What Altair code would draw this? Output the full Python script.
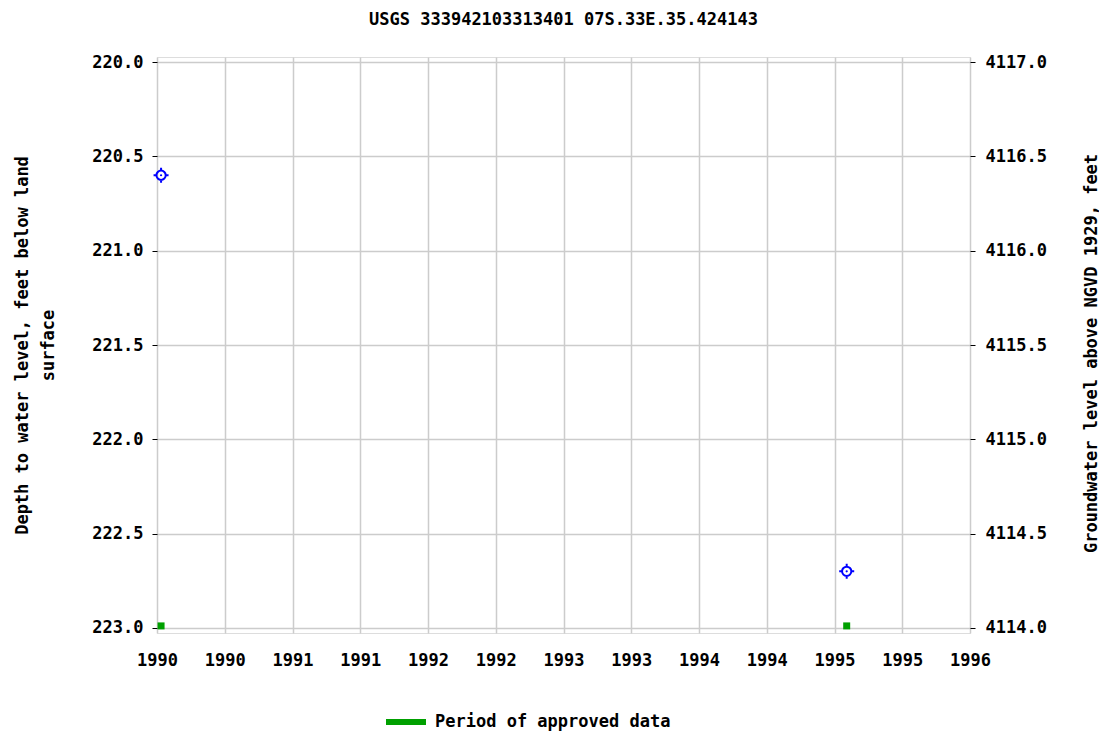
import altair as alt
import pandas as pd

# Data
dates = [1990.03, 1995.09]          # decimal years of measurements
depths = [220.6, 222.7]             # depth to water level, feet below land surface
elevations = [4116.4, 4114.3]       # groundwater level above NGVD 1929, feet
approved_dates = [1990.03, 1995.09] # period of approved data markers
approved_depth = [223.0, 223.0]

x_ticks = [1990.0 + 0.5 * i for i in range(13)]
y_ticks = [220.0, 220.5, 221.0, 221.5, 222.0, 222.5, 223.0]
y2_ticks = [4114.0, 4114.5, 4115.0, 4115.5, 4116.0, 4116.5, 4117.0]

FONT = "DejaVu Sans Mono"
FS = 17

meas = pd.DataFrame({"date": dates, "depth": depths, "elev": elevations})
appr = pd.DataFrame({"date": approved_dates, "depth": approved_depth,
                     "legend": ["Period of approved data"] * len(approved_dates)})

xscale = alt.Scale(domain=[1990.0, 1996.0], nice=False, zero=False)
xaxis = alt.Axis(values=x_ticks, labelExpr="'' + floor(datum.value)", title=None,
                 grid=True, gridColor="#cccccc", gridWidth=1.5, tickSize=0,
                 labelPadding=19, labelFontSize=FS, labelFont=FONT, labelFontWeight="bold",
                 labelColor="black", domain=False, labelFlush=False)

yscale = alt.Scale(domain=[219.973, 223.027], reverse=True, nice=False, zero=False)
yaxis = alt.Axis(values=y_ticks, format=".1f",
                 title=["Depth to water level, feet below land", "surface"],
                 titleFont=FONT, titleFontSize=FS, titleFontWeight="bold", titleColor="black",
                 titleLineHeight=26, titlePadding=34,
                 grid=True, gridColor="#cccccc", gridWidth=1.5,
                 tickSize=5, tickColor="black", labelPadding=9,
                 labelFontSize=FS, labelFont=FONT, labelFontWeight="bold", labelColor="black",
                 domain=False)

y2scale = alt.Scale(domain=[4113.973, 4117.027], nice=False, zero=False)
y2axis = alt.Axis(values=y2_ticks, format=".1f", orient="right",
                  title="Groundwater level above NGVD 1929, feet",
                  titleFont=FONT, titleFontSize=FS, titleFontWeight="bold", titleColor="black",
                  titleAngle=270, titleX=121, titleY=296, titleAlign="center",
                  titleBaseline="middle",
                  grid=False, tickSize=5, tickColor="black", labelPadding=10,
                  labelFontSize=FS, labelFont=FONT, labelFontWeight="bold", labelColor="black",
                  domain=False)

base_x = alt.X("date:Q", scale=xscale, axis=xaxis)

usgs_symbol = ("M-0.62,0A0.62,0.62 0 1,0 0.62,0A0.62,0.62 0 1,0 -0.62,0"
               "M0,-1V-0.62M0,0.62V1M-1,0H-0.62M0.62,0H1")

points = alt.Chart(meas).mark_point(shape=usgs_symbol, size=225, filled=False,
                                    stroke="#0000ff", strokeWidth=2, opacity=1).encode(
    x=base_x, y=alt.Y("depth:Q", scale=yscale, axis=yaxis))

dots = alt.Chart(meas).mark_point(shape="circle", size=5, filled=True,
                                  fill="#0000ff", opacity=1).encode(
    x=alt.X("date:Q", scale=xscale), y=alt.Y("depth:Q", scale=yscale))

approved = alt.Chart(appr).mark_square(size=49, opacity=1, yOffset=-2).encode(
    x=alt.X("date:Q", scale=xscale), y=alt.Y("depth:Q", scale=yscale),
    color=alt.Color("legend:N",
                    scale=alt.Scale(domain=["Period of approved data"], range=["#00a000"]),
                    legend=alt.Legend(title=None, orient="none", legendX=228, legendY=644,
                                      symbolType="M-1,-0.15H1V0.15H-1Z", symbolSize=1600,
                                      symbolOpacity=1, labelFont=FONT, labelFontSize=FS,
                                      labelFontWeight="bold", labelColor="black",
                                      labelOffset=8, labelLimit=0, padding=0)))

left = alt.layer(points, dots, approved)

right = alt.Chart(meas).mark_point(opacity=0).encode(
    x=alt.X("date:Q", scale=xscale),
    y=alt.Y("elev:Q", scale=y2scale, axis=y2axis))

chart = alt.layer(left, right).resolve_scale(y="independent").properties(
    width=813, height=576,
    padding={"left": 5, "top": 3, "right": 0, "bottom": 5},
    title=alt.TitleParams("USGS 333942103313401 07S.33E.35.424143", font=FONT, fontSize=FS,
                          fontWeight="bold", color="black", offset=24, anchor="middle"),
).configure_view(stroke="black", strokeWidth=1.5).configure(background="white")

chart.save("out.html", embed_options={"renderer": "svg", "actions": False})
